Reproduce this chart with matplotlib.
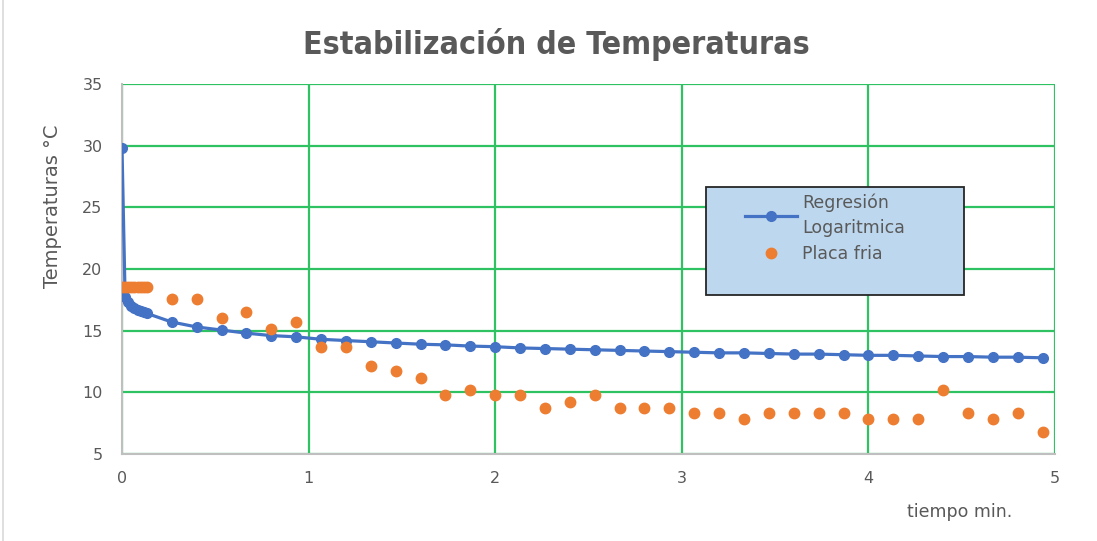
import numpy as np
import matplotlib
matplotlib.use("Agg")
import matplotlib.pyplot as plt
from matplotlib.patches import Rectangle

# time in minutes: one reading per second for the first 8 s, then every 8 s
t_first = [0, 1/60, 2/60, 3/60, 4/60, 5/60, 6/60, 7/60, 8/60]
t_rest = [k * 8 / 60 for k in range(2, 38)]
tiempo = t_first + t_rest

placa_fria = [18.5, 18.5, 18.5, 18.5, 18.5, 18.5, 18.5, 18.5, 18.5,
              17.6, 17.6, 16.0, 16.5, 15.1, 15.7, 13.7, 13.7, 12.1, 11.7,
              11.2, 9.8, 10.2, 9.8, 9.8, 8.7, 9.2, 9.8, 8.7, 8.7, 8.7,
              8.3, 8.3, 7.8, 8.3, 8.3, 8.3, 8.3, 7.8, 7.8, 7.8, 10.2,
              8.3, 7.8, 8.3, 6.8]

regresion = [29.8, 17.7, 17.3, 17.0, 16.8, 16.7, 16.6, 16.5, 16.4,
             15.7, 15.3, 15.05, 14.8, 14.6, 14.5, 14.3, 14.2, 14.1, 14.0,
             13.9, 13.85, 13.75, 13.7, 13.6, 13.55, 13.5, 13.45, 13.4,
             13.35, 13.3, 13.25, 13.2, 13.2, 13.15, 13.1, 13.1, 13.05,
             13.0, 13.0, 12.95, 12.9, 12.9, 12.85, 12.85, 12.8]

x_ticks = [0, 1, 2, 3, 4, 5]
y_ticks = [5, 10, 15, 20, 25, 30, 35]

BLUE = "#4472C4"
ORANGE = "#ED7D31"
GREEN = "#2EC262"
GRAY = "#595959"

W, H = 1097, 541
fig = plt.figure(figsize=(W / 100, H / 100), dpi=100)
ax = fig.add_axes([122 / W, 1 - 454 / H, (1055 - 122) / W, (454 - 84) / H])

ax.plot(tiempo, regresion, color=BLUE, lw=2.3, marker="o", ms=7,
        label="Regresión\nLogaritmica", zorder=3)
ax.plot(tiempo, placa_fria, ls="none", color=ORANGE, marker="o", ms=7.5,
        label="Placa fria", zorder=4)

ax.set_xlim(0, 5)
ax.set_ylim(5, 35)
ax.set_xticks(x_ticks)
ax.set_yticks(y_ticks)
ax.grid(True, color=GREEN, lw=1.6)
ax.set_axisbelow(True)
for side in ("top", "right"):
    ax.spines[side].set_visible(False)
for side in ("left", "bottom"):
    ax.spines[side].set_color("#bfbfbf")
    ax.spines[side].set_linewidth(1.5)
ax.tick_params(length=0, labelsize=11.5, labelcolor=GRAY, pad=14)
ax.tick_params(axis="x", pad=12)

ax.set_ylabel("Temperaturas °C", fontsize=14, color=GRAY)
ax.yaxis.set_label_coords(-60 / (1055 - 122), (454 - 206) / (454 - 84))
fig.text(960 / W, 1 - 512 / H, "tiempo min.", fontsize=12.5, color=GRAY,
         ha="center", va="center")
fig.text(556 / W, 1 - 45 / H, "Estabilización de Temperaturas",
         fontsize=23, fontweight="bold", fontstretch="condensed",
         color=GRAY, ha="center", va="center")

# legend box drawn separately so its size can be set freely
ax.add_patch(Rectangle((706 / W, 1 - 295 / H), 258 / W, 108 / H,
                       transform=fig.transFigure, facecolor="#BDD7EE",
                       edgecolor="#262626", lw=1.3, zorder=5, clip_on=False))
leg = ax.legend(loc="upper left", bbox_to_anchor=(733 / W, 1 - 181 / H),
                bbox_transform=fig.transFigure, frameon=False,
                fontsize=12.5, labelcolor=GRAY, borderpad=0.2,
                handlelength=3.0, handletextpad=0.3, labelspacing=0.45)
leg.set_zorder(6)
leg.get_texts()[0].set_linespacing(1.55)

# light outer frame of the chart area
fig.patches.append(Rectangle((3 / W, -0.01), 1.0, 1.02, transform=fig.transFigure,
                             fill=False, edgecolor="#d9d9d9", lw=1.2))

fig.savefig("out.png", dpi=100)
